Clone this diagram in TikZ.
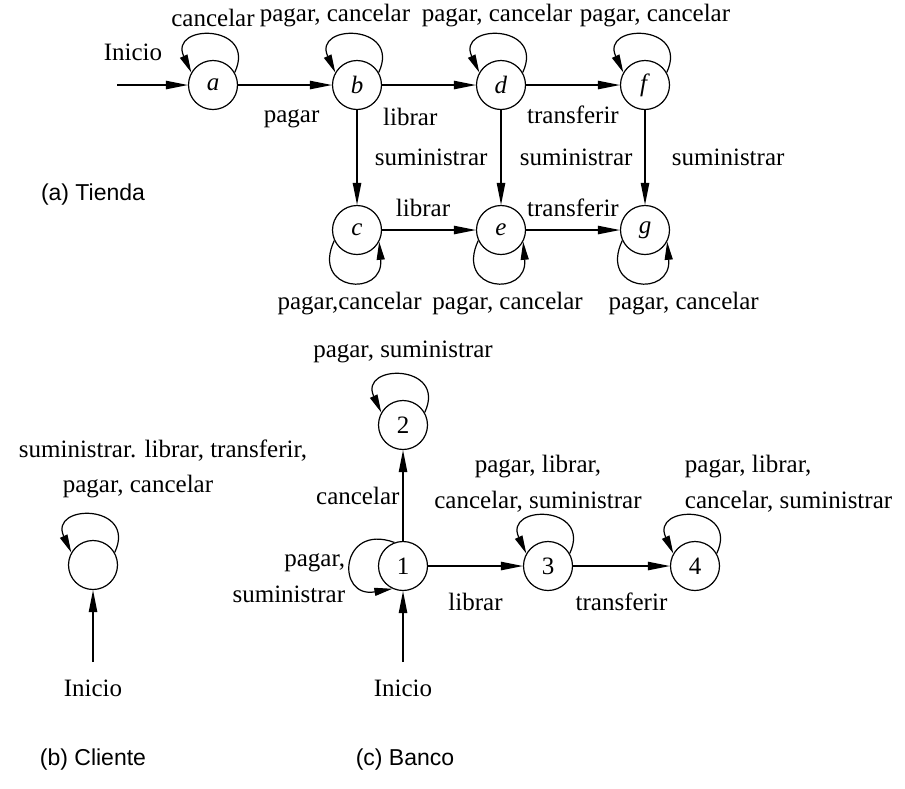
\documentclass[tikz,border=0pt]{standalone}
\usepackage{fontspec}
\setmainfont{Liberation Serif}
\newfontfamily\rotsans{Liberation Sans}
\usetikzlibrary{arrows.meta}

\begin{document}
\begin{tikzpicture}
[x=0.5pt,y=0.5pt,line width=0.6pt,%
  estado/.style={shape=circle,draw,minimum size=24.5pt,inner sep=0pt},%
  flecha/.style={-{Triangle[length=11pt,width=4.2pt]}},%
  lazo/.style={-{Triangle[length=9pt,width=4pt]},looseness=3.2},%
  leyenda/.style={font=\rotsans\fontsize{11.5}{14}\selectfont}]
\fontsize{12.5}{18}\selectfont
\useasboundingbox (0,0) rectangle (905,-788);
% (a) Tienda
\node[estado] (a) at (213,-85) {\textit{a}};
\node[estado] (b) at (357,-85) {\textit{b}};
\node[estado] (d) at (501,-85) {\textit{d}};
\node[estado] (f) at (645,-85) {\textit{f}};
\node[estado] (c) at (357,-230) {\textit{c}};
\node[estado] (e) at (501,-230) {\textit{e}};
\node[estado] (g) at (645,-230) {\textit{g}};
\coordinate (iniA) at (117,-85);
\node (txtIniA) at (133,-52) {Inicio};
\draw[flecha] (iniA) -- (a);
\draw[flecha] (a) -- node[pos=0.57,below=8pt] {pagar} (b);
\draw[flecha] (b) -- node[pos=0.3,below=7pt] {librar} (d);
\draw[flecha] (d) -- node[below=6pt] {transferir} (f);
\draw[flecha] (b) -- node[right=4.5pt] {suministrar} (c);
\draw[flecha] (d) -- node[right=5pt] {suministrar} (e);
\draw[flecha] (f) -- node[right=9pt] {suministrar} (g);
\draw[flecha] (c) -- node[above=2pt,xshift=-3pt] {librar} (e);
\draw[flecha] (e) -- node[above=2pt] {transferir} (g);
\draw[lazo] (a.30) to[out=65,in=115] node[above=0pt] {cancelar} (a.150);
\draw[lazo] (b.30) to[out=65,in=115] node[above=0pt,xshift=-11pt] {pagar, cancelar} (b.150);
\draw[lazo] (d.30) to[out=65,in=115] node[above=0pt,xshift=-2pt] {pagar, cancelar} (d.150);
\draw[lazo] (f.30) to[out=65,in=115] node[above=0pt,xshift=5pt] {pagar, cancelar} (f.150);
\draw[lazo] (c.205) to[out=-115,in=-85] node[below=1pt] {pagar,cancelar} (c.-28);
\draw[lazo] (e.205) to[out=-115,in=-85] node[below=1pt,xshift=7pt] {pagar, cancelar} (e.-28);
\draw[lazo] (g.205) to[out=-115,in=-85] node[below=1pt,xshift=23pt] {pagar, cancelar} (g.-28);
\node[leyenda] (titA) at (93,-195) {(a) Tienda};
% (b) Cliente
\node[estado] (cl) at (93,-565) {};
\coordinate (iniB) at (93,-662);
\node (txtIniB) at (93,-688) {Inicio};
\draw[flecha] (iniB) -- (cl);
\draw[lazo] (cl.30) to[out=65,in=115] (cl.150);
\node (txtCl) at (163,-451) {suministrar. librar, transferir,};
\node (txtCl2) at (138,-487) {pagar, cancelar};
\node[leyenda] (titB) at (93,-760) {(b) Cliente};
% (c) Banco
\node[estado] (q1) at (403,-566) {1};
\node[estado] (q2) at (403,-425) {2};
\node[estado] (q3) at (548,-566) {3};
\node[estado] (q4) at (695,-566) {4};
\coordinate (iniC) at (403,-662);
\node (txtIniC) at (403,-688) {Inicio};
\draw[flecha] (iniC) -- (q1);
\draw[flecha] (q1) -- node[left,inner sep=1.5pt] {cancelar} (q2);
\draw[flecha] (q1) -- node[below=9pt] {librar} (q3);
\draw[flecha] (q3) -- node[below=9pt] {transferir} (q4);
\draw[lazo] (q2.30) to[out=65,in=115] node[above=2pt] {pagar, suministrar} (q2.150);
\draw[lazo] (q3.30) to[out=65,in=115] (q3.150);
\draw[lazo] (q4.30) to[out=65,in=115] (q4.150);
\draw[lazo] (q1.110) to[out=160,in=190] (q1.245);
\node[align=center] (txtQ3) at (538,-484) {pagar, librar,\\cancelar, suministrar};
\node[align=left,anchor=west] (txtQ4) at (676,-484) {pagar, librar,\\cancelar, suministrar};
\node[align=right,anchor=east] (txtQ1) at (354,-578) {pagar,\\suministrar};
\node[leyenda] (titC) at (405,-760) {(c) Banco};
\end{tikzpicture}
\end{document}
